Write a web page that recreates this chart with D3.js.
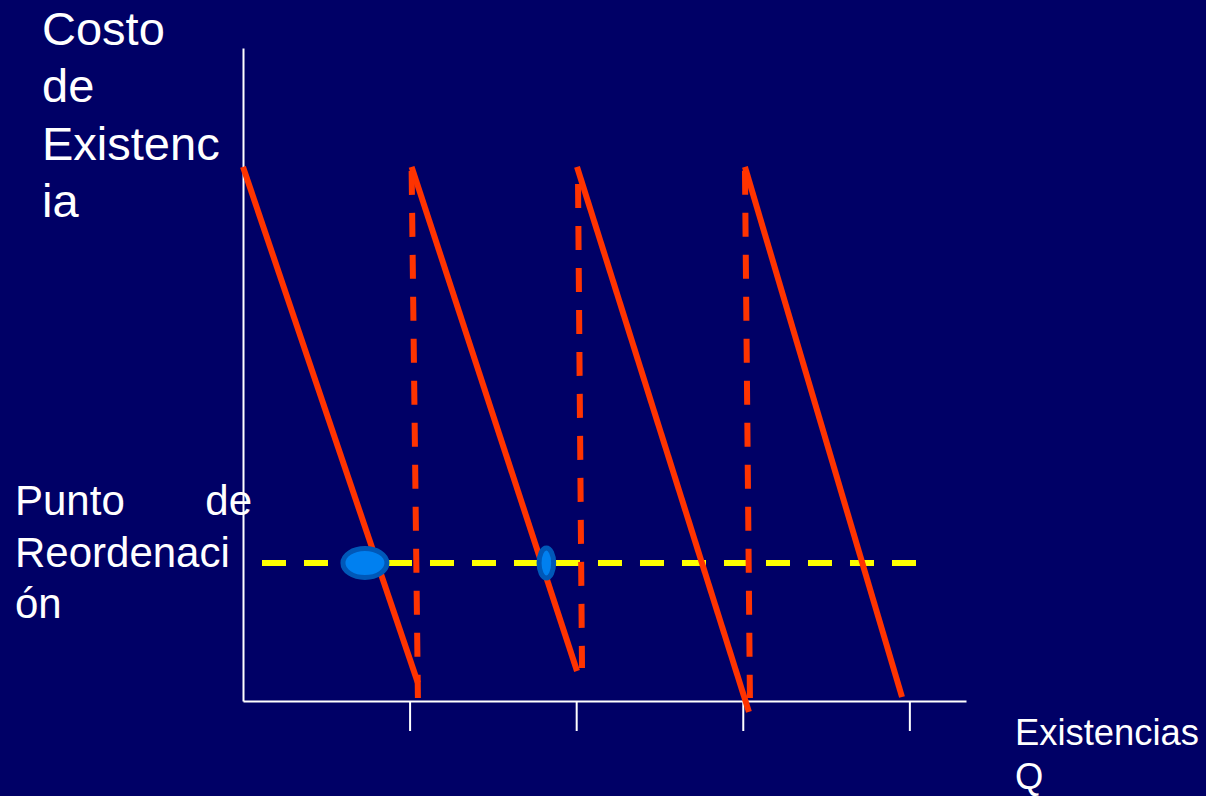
<!DOCTYPE html>
<html>
<head>
<meta charset="utf-8">
<script src="https://cdn.jsdelivr.net/npm/d3@7"></script>
<style>
  html, body { margin: 0; padding: 0; background: #000066; }
  svg { display: block; }
  text { font-family: "Liberation Sans", Arial, sans-serif; fill: #ffffff; }
</style>
</head>
<body>
<div id="container"></div>
<script>
/**
 * DATA
 * */
// x in order cycles, y in stock level (0-100)
const demandX0 = [0.00, 1.012, 2.005, 3.013]
const demandY0 = [81.8, 81.8, 81.8, 81.8]
const demandX1 = [1.05, 2.005, 3.037, 3.956]
const demandY1 = [2.76, 4.59, -1.68, 0.61]

const refillX0 = [1.012, 2.011, 3.013]
const refillY0 = [81.8, 79.8, 81.8]
const refillX1 = [1.05, 2.035, 3.043]
const refillY1 = [0.46, 5.05, 0.46]

const reorderLevel = 21.13
const reorderX = [0.114, 4.046]

const markerX = [0.732, 1.821]

const xTicks = [1, 2, 3, 4]
const yTitle = ["Costo", "de", "Existenc", "ia"]
const reorderLabel = ["Reordenaci", "ón"]
const xTitle = ["Existencias", "Q"]

/**
 * CONSTANTS
 * */
const w = 1206
const h = 796
const red = "#ff3300"
const markerSize = [[22, 14.5], [7.3, 15]]

const svg = d3.select("#container")
    .append("svg")
    .attr("width", w)
    .attr("height", h)

svg.append("rect")
    .attr("width", w)
    .attr("height", h)
    .attr("fill", "#000066")

// Scales
const x = d3.scaleLinear()
    .domain([0, 4.34])
    .range([243, 966])

const y = d3.scaleLinear()
    .domain([0, 100])
    .range([701, 48])

// Axes
const xAxis = svg.append("g")
    .attr("transform", `translate(0,${y(0)})`)
    .call(d3.axisBottom(x)
        .tickValues(xTicks)
        .tickSize(30)
        .tickSizeOuter(0)
        .tickFormat(""))
xAxis.attr("color", "#ffffff")
xAxis.selectAll("path, line").attr("stroke-width", 2)

const yAxis = svg.append("g")
    .attr("transform", `translate(${x(0)},0)`)
    .call(d3.axisLeft(y).tickValues([]).tickSizeOuter(0))
yAxis.attr("color", "#ffffff")
yAxis.selectAll("path").attr("stroke-width", 2)

// reorder point line
svg.append("line")
    .attr("x1", x(reorderX[0]))
    .attr("x2", x(reorderX[1]))
    .attr("y1", y(reorderLevel))
    .attr("y2", y(reorderLevel))
    .attr("stroke", "#ffff00")
    .attr("stroke-width", 6)
    .attr("stroke-dasharray", "24,18")

// stock depletion lines
svg.selectAll(".demand")
    .data(d3.range(demandX0.length))
    .join("line")
    .attr("class", "demand")
    .attr("x1", i => x(demandX0[i]))
    .attr("y1", i => y(demandY0[i]))
    .attr("x2", i => x(demandX1[i]))
    .attr("y2", i => y(demandY1[i]))
    .attr("stroke", red)
    .attr("stroke-width", 6)

// replenishment (dashed)
svg.selectAll(".refill")
    .data(d3.range(refillX0.length))
    .join("line")
    .attr("class", "refill")
    .attr("x1", i => x(refillX0[i]))
    .attr("y1", i => y(refillY0[i]))
    .attr("x2", i => x(refillX1[i]))
    .attr("y2", i => y(refillY1[i]))
    .attr("stroke", red)
    .attr("stroke-width", 6)
    .attr("stroke-dasharray", "24,18")
    .attr("stroke-dashoffset", -4)

// markers
svg.selectAll(".marker")
    .data(markerX)
    .join("ellipse")
    .attr("class", "marker")
    .attr("cx", d => x(d))
    .attr("cy", y(reorderLevel))
    .attr("rx", (d, i) => markerSize[i][0])
    .attr("ry", (d, i) => markerSize[i][1])
    .attr("fill", "#0080f0")
    .attr("stroke", "#0058b8")
    .attr("stroke-width", 5)

// Labels
svg.append("g")
    .selectAll("text")
    .data(yTitle)
    .join("text")
    .attr("x", 42)
    .attr("y", (d, i) => 45 + i * 57.3)
    .attr("font-size", 47)
    .text(d => d)

svg.append("text")
    .attr("x", 15)
    .attr("y", 515)
    .attr("font-size", 42)
    .text("Punto")
svg.append("text")
    .attr("x", 252)
    .attr("y", 515)
    .attr("font-size", 42)
    .attr("text-anchor", "end")
    .text("de")

svg.append("g")
    .selectAll("text")
    .data(reorderLabel)
    .join("text")
    .attr("x", 15)
    .attr("y", (d, i) => 567 + i * 50.5)
    .attr("font-size", 42)
    .text(d => d)

svg.append("g")
    .selectAll("text")
    .data(xTitle)
    .join("text")
    .attr("x", 1015)
    .attr("y", (d, i) => 745 + i * 44)
    .attr("font-size", 36.4)
    .text(d => d)
</script>
</body>
</html>
